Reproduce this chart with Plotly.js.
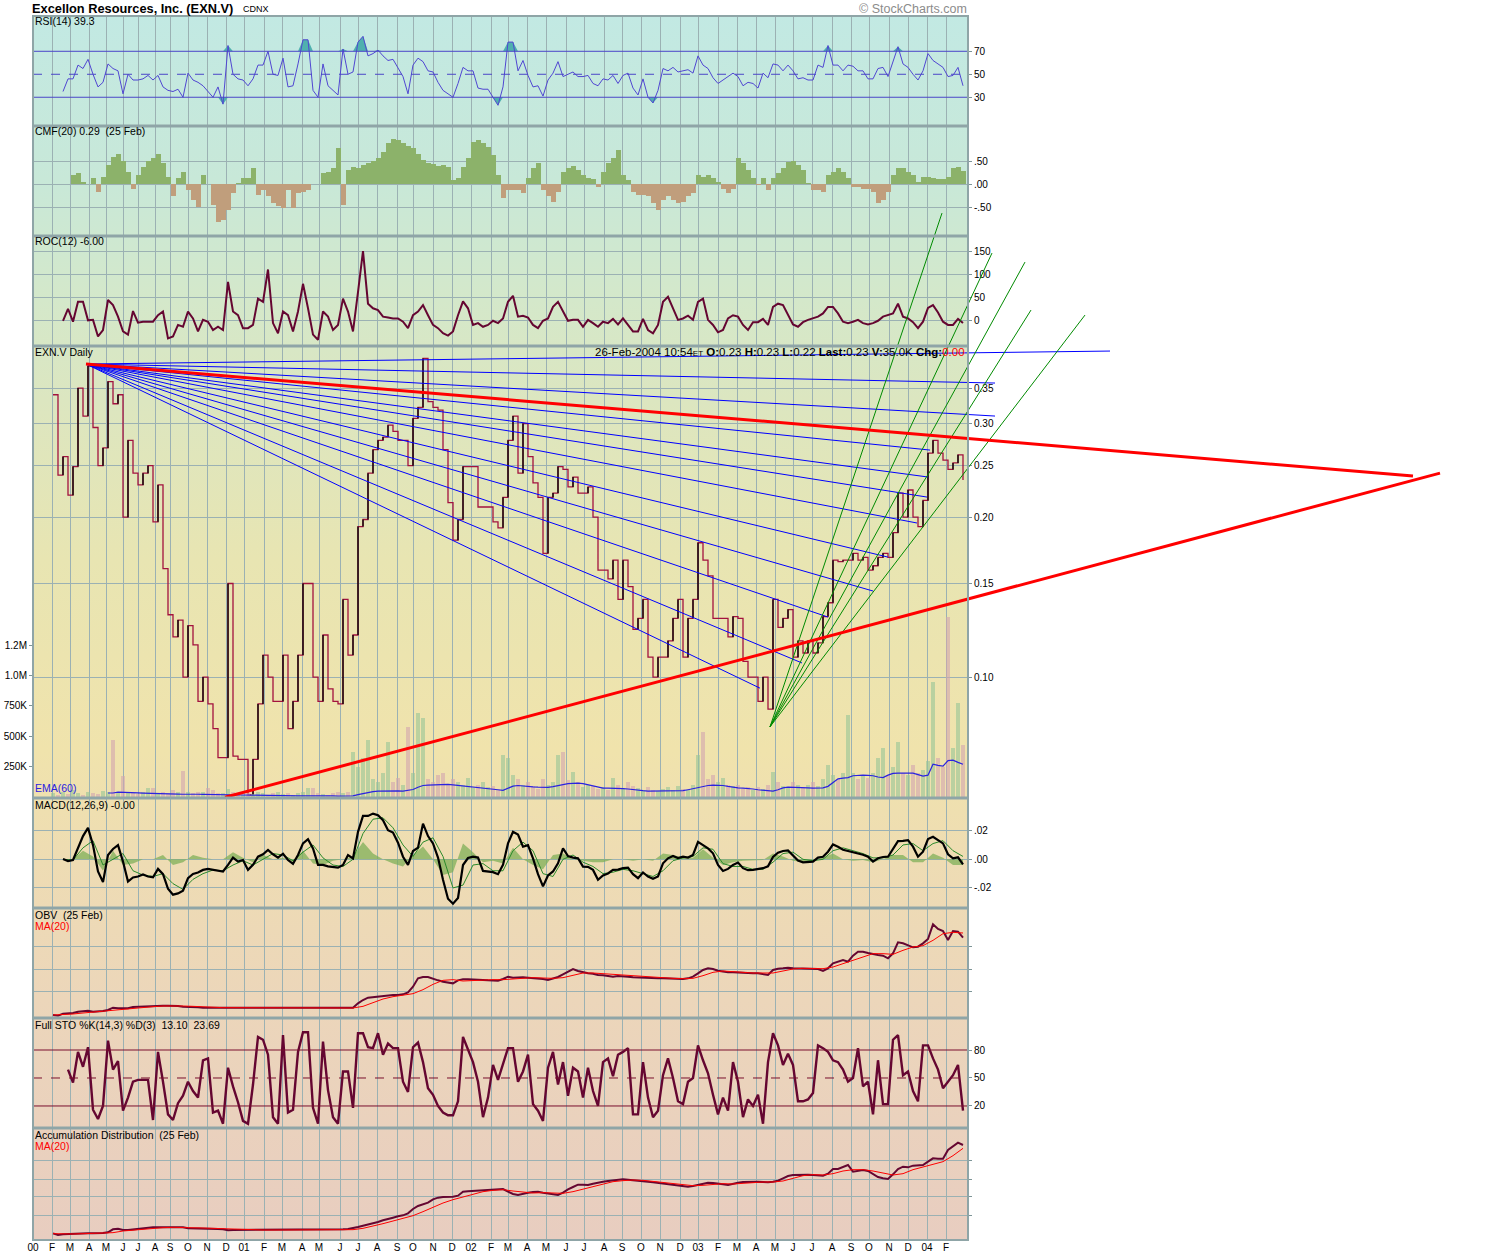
<!DOCTYPE html>
<html><head><meta charset="utf-8">
<script src="https://cdn.plot.ly/plotly-3.0.1.min.js"></script>
<style>body{margin:0;background:#fff}#chart{width:1500px;height:1260px}</style>
</head><body><div id="chart"></div><script>
// ---------- x axis: month grid (positions in weekly-slot units) ----------
const monthLabels = ['00','F','M','A','M','J','J','A','S','O','N','D',
 '01','F','M','A','M','J','J','A','S','O','N','D',
 '02','F','M','A','M','J','J','A','S','O','N','D',
 '03','F','M','A','M','J','J','A','S','O','N','D','04','F'];
const monthTickPos = [0,3.8,7.4,11.2,14.6,18,21,24.4,27.4,31,34.8,38.6,
 42.2,46.2,49.8,53.8,57.2,61.4,65,68.8,72.8,76,80,83.8,
 87.6,91.6,95,98.8,102.6,106.6,110.2,114.2,117.8,121.6,125.4,129.4,
 133,137,140.8,144.6,148.4,152,155.8,159.8,163.6,167.2,171.2,175,
 178.8,182.6];

// ---------- series (one value per weekly slot) ----------
const rsiStart = 6;
const rsi = [35,46,46,58,55,63,50,39,43,59,
 55,53,33,50,45,45,46,49,45,49,
 39,36,35,37,30,51,45,43,40,35,
 30,39,24,75,50,46,45,40,46,58,
 58,70,50,49,64,39,40,59,80,80,
 36,30,59,40,36,32,72,50,52,78,
 83,66,68,71,66,62,63,56,48,33,
 58,64,61,53,52,43,36,33,30,42,
 56,53,53,38,37,37,30,23,39,78,
 78,53,62,49,39,40,31,45,51,61,
 48,50,52,48,48,49,42,40,46,45,
 49,42,49,51,38,32,46,30,25,36,
 55,53,56,52,53,54,51,66,58,55,
 47,42,45,48,51,48,40,43,42,38,
 51,47,59,58,53,58,53,46,47,45,
 45,58,56,75,58,58,53,58,57,53,
 53,46,46,55,56,48,61,74,59,56,
 50,45,53,68,62,59,56,48,49,56,40];

const cmfStart = 8;
const cmf = [0.2,0.24,0.06,0.0,0.13,-0.16,0.16,0.41,0.59,0.66,
 0.49,0.27,-0.09,0.2,0.38,0.49,0.56,0.64,0.45,0.16,
 -0.26,0.13,0.27,-0.12,-0.34,-0.48,0.2,0,-0.44,-0.8,
 -0.76,-0.55,-0.19,0.02,0.13,0.13,0.34,-0.23,-0.12,-0.26,
 -0.41,-0.46,-0.51,-0.12,-0.51,-0.19,-0.16,-0.12,0,0,
 0.24,0.27,0.34,0.77,-0.44,0.31,0.38,0.34,0.41,0.45,
 0.49,0.56,0.7,0.88,0.97,0.95,0.88,0.83,0.77,0.66,
 0.52,0.45,0.43,0.4,0.41,0.38,0.09,0.13,0.38,0.56,
 0.91,0.95,0.88,0.81,0.63,0.2,-0.3,-0.12,-0.12,-0.12,
 -0.19,0.13,0.34,0.45,-0.12,-0.26,-0.37,-0.16,0.27,0.34,
 0.4,0.31,0.2,0.13,0.11,-0.05,0.27,0.45,0.56,0.74,
 0.2,0.09,-0.16,-0.23,-0.23,-0.26,-0.41,-0.55,-0.34,-0.26,
 -0.34,-0.41,-0.37,-0.26,-0.19,0.2,0.16,0.2,0.13,0.04,
 -0.09,-0.19,-0.09,0.56,0.45,0.31,0.13,-0.01,0.13,-0.12,
 0.13,0.24,0.34,0.47,0.49,0.41,0.31,0.02,-0.12,-0.12,
 -0.16,0.2,0.27,0.34,0.27,0.13,-0.05,-0.05,-0.09,-0.09,
 -0.16,-0.41,-0.34,-0.16,0.2,0.34,0.34,0.27,0.2,0.06,
 0.16,0.16,0.13,0.11,0.11,0.16,0.34,0.38,0.29];

const rocStart = 6;
const roc = [-1,25,-3,40,40,0,1,-35,-21,44,
 33,8,-24,-31,20,-5,-3,-3,-3,11,
 19,-39,-35,-10,-14,19,4,-24,1,-3,
 -21,-14,-21,83,19,11,-17,-17,-10,47,
 40,110,-6,-28,19,11,-24,19,79,26,
 -31,-42,19,8,-21,-10,47,19,-24,61,
 150,36,26,22,8,6,4,4,-3,-17,
 11,19,33,11,-10,-17,-28,-33,-24,11,
 41,26,-10,-6,-14,-10,-1,-6,4,40,
 53,8,10,6,-10,-17,-1,4,29,40,
 19,-1,1,1,-14,1,-6,-14,-3,-6,
 3,-9,4,-10,-24,-24,3,-21,-28,-10,
 40,51,26,1,4,10,1,40,47,1,
 -10,-26,-21,4,11,8,-10,-21,-4,-4,
 3,-10,29,36,33,11,-9,-14,-4,1,
 4,8,15,29,29,15,-3,-6,-3,1,
 -6,-9,-6,-1,8,11,15,36,8,4,
 -4,-17,-3,27,33,17,-3,-10,-10,3,-6];

const priceStart = 4;
const close = [0.34,0.24,0.26,0.22,0.249,0.35,0.31,0.385,0.295,0.25,
 0.27,0.36,0.327,0.34,0.2,0.279,0.242,0.23,0.242,0.25,
 0.196,0.23,0.16,0.131,0.119,0.128,0.10,0.125,0.115,0.09,
 0.10,0.089,0.08,0.0705,0.0705,0.15,0.071,0.07,0.07,0.06,
 0.07,0.089,0.11,0.10,0.09,0.09,0.11,0.08,0.09,0.11,
 0.15,0.15,0.10,0.09,0.12,0.095,0.09,0.089,0.14,0.11,
 0.12,0.192,0.198,0.242,0.268,0.279,0.283,0.298,0.29,0.279,
 0.279,0.25,0.307,0.322,0.398,0.33,0.322,0.318,0.268,0.213,
 0.181,0.198,0.249,0.249,0.249,0.209,0.209,0.209,0.196,0.191,
 0.218,0.279,0.31,0.242,0.30,0.26,0.232,0.218,0.171,0.218,
 0.222,0.249,0.246,0.228,0.238,0.222,0.222,0.228,0.20,0.159,
 0.159,0.153,0.166,0.14,0.166,0.148,0.123,0.129,0.14,0.109,
 0.10,0.109,0.109,0.117,0.129,0.14,0.109,0.129,0.14,0.179,
 0.166,0.155,0.129,0.129,0.129,0.119,0.13,0.129,0.107,0.10,
 0.10,0.09,0.10,0.087,0.14,0.124,0.129,0.134,0.109,0.117,
 0.111,0.117,0.111,0.116,0.13,0.138,0.166,0.165,0.166,0.166,
 0.171,0.166,0.168,0.159,0.162,0.168,0.171,0.168,0.187,0.222,
 0.20,0.225,0.20,0.192,0.215,0.264,0.279,0.264,0.256,0.246,
 0.253,0.262,0.235];

const volumeK = [30,20,45,25,60,35,20,45,30,25,
 50,40,470,35,172,40,30,25,45,75,
 75,30,40,35,60,45,213,40,30,45,
 40,74,60,30,35,70,40,25,20,30,
 25,40,30,20,35,45,25,30,20,30,
 40,74,74,30,25,20,30,40,30,45,
 374,250,320,470,150,120,200,450,120,156,
 100,580,200,690,650,150,120,180,200,100,
 150,120,100,156,74,100,120,80,90,60,
 347,320,180,150,100,120,90,70,150,100,
 120,347,374,140,210,120,80,100,90,70,
 80,60,156,100,74,120,90,74,60,80,
 60,50,70,80,60,90,70,60,100,347,
 538,150,180,120,156,100,90,101,70,80,
 60,80,70,100,210,120,90,74,120,100,
 80,100,120,90,150,260,180,150,200,675,
 200,150,180,160,200,320,400,180,250,456,
 200,180,260,200,220,300,948,320,250,1480,
 400,770,430];

const emaStart = 15;
const volEma60K = [33,33,40,40,38,36,34,32,30,28,
 27,26,25,24,24,23,25,24,23,22,
 21,20,19,18,18,17,16,15,14,13,
 12,12,11,11,10,10,10,9,9,9,
 10,10,10,9,9,9,8,8,8,10,
 20,30,40,45,48,50,52,50,50,49,
 55,62,80,95,98,100,104,106,104,100,
 96,92,90,86,82,78,74,68,60,55,
 70,90,95,90,86,84,82,80,80,85,
 95,105,110,112,115,110,100,90,80,74,
 74,74,72,70,66,60,55,52,49,49,
 48,48,48,49,49,52,60,70,80,88,
 95,98,98,95,88,80,76,74,72,66,
 60,55,50,49,60,75,82,82,82,80,
 76,74,74,76,88,120,150,156,160,175,
 180,180,178,175,165,160,180,195,197,197,
 197,197,185,172,180,270,260,254,300,303,
 285,270];

const macdStart = 6;
const macd = [0.0002,-0.0012,-0.0005,0.0076,0.0162,0.0219,0.0099,-0.0085,-0.0159,0.003,
 0.0072,0.0099,-0.0016,-0.0155,-0.0127,-0.012,-0.0106,-0.012,-0.0125,-0.0067,
 -0.0104,-0.0206,-0.0247,-0.0238,-0.0219,-0.0132,-0.0102,-0.0092,-0.0074,-0.0067,
 -0.0072,-0.0081,-0.0085,-0.0039,0.0012,-0.0016,-0.0005,-0.0074,-0.0039,0.0018,
 0.0035,0.0065,0.0035,0.0012,0.0039,-0.0005,-0.0032,0.003,0.0111,0.0141,
 0.0076,-0.0039,-0.0039,-0.0049,-0.0051,-0.0058,-0.0039,0.003,0.0007,0.0192,
 0.0303,0.0303,0.0319,0.0307,0.0273,0.0203,0.0187,0.0116,0.0018,-0.0039,
 0.0058,0.0081,0.0249,0.0162,0.0111,0.0012,-0.0143,-0.0275,-0.031,-0.027,
 -0.004,0.0009,0.0018,0.0012,-0.0081,-0.0085,-0.009,-0.0104,-0.0039,0.0111,
 0.0192,0.0173,0.0088,0.0099,0.0007,-0.0104,-0.0189,-0.0113,-0.0085,-0.0028,
 0.0076,0.0023,0.0012,0.0007,-0.0051,-0.0053,-0.0074,-0.0143,-0.0113,-0.0099,
 -0.0074,-0.0072,-0.0062,-0.0058,-0.0104,-0.0132,-0.0092,-0.012,-0.0136,-0.012,
 -0.0028,0.0007,0.0023,0.0009,0.0018,0.0012,0.003,0.0122,0.0099,0.0076,
 0.0042,-0.0039,-0.0081,-0.0067,-0.0039,-0.0023,-0.0062,-0.0076,-0.0074,-0.0069,
 -0.0062,-0.0049,0.0016,0.0046,0.0058,0.0062,0.003,-0.0009,-0.0021,-0.0021,
 -0.0016,0.0012,0.0018,0.0053,0.0104,0.0088,0.0067,0.0058,0.0049,0.0042,
 0.0032,0.0018,-0.0016,0.0007,0.0016,0.0018,0.0069,0.0127,0.0129,0.0134,
 0.0088,0.0018,0.0053,0.0141,0.0157,0.0136,0.0111,0.0035,0.0007,0.0014,-0.0035];
// signal and histogram: one value every second slot from slot 6
const macdSignal = [0.0,-0.0005,0.008,0.013,-0.004,0.0,0.004,-0.008,-0.011,-0.012,
 -0.010,-0.017,-0.021,-0.014,-0.010,-0.0075,-0.008,-0.004,-0.001,-0.004,
 0.0,0.004,0.003,-0.001,0.005,0.010,0.001,-0.004,-0.005,0.0,
 0.018,0.028,0.029,0.022,0.010,0.002,0.012,0.015,0.002,-0.020,
 -0.018,-0.004,-0.003,-0.008,-0.008,0.006,0.012,0.006,-0.010,-0.012,
 0.0,0.003,-0.002,-0.005,-0.010,-0.009,-0.007,-0.008,-0.010,-0.012,
 -0.008,-0.001,0.001,0.002,0.008,0.007,-0.003,-0.005,-0.005,-0.007,
 -0.007,-0.002,0.004,0.005,0.0,-0.001,0.0,0.006,0.008,0.006,
 0.004,0.001,0.001,0.003,0.010,0.011,0.006,0.011,0.013,0.006,
 0.002];
const macdHist = [0,0,0.006,0.002,-0.008,0.006,-0.004,-0.003,0,0,
 0.003,-0.004,-0.002,0.003,0.001,0,0,0.005,0.001,-0.002,
 0.003,0,0.001,-0.002,0.006,-0.003,-0.004,-0.001,0,0.002,
 0.012,0.004,0,-0.003,-0.005,0.003,0.009,0,-0.011,-0.009,
 0.011,0.005,-0.002,-0.001,-0.003,0.008,0,-0.004,-0.007,0.003,
 0.004,0,-0.001,-0.002,-0.002,0,0,-0.001,0,-0.001,
 0.004,0.003,0.001,0.001,0.007,0.001,-0.004,-0.002,-0.001,-0.001,
 -0.0005,0.004,0.002,-0.001,-0.002,-0.001,0.001,0.004,0,-0.001,
 -0.0005,-0.002,0,0.003,0.003,-0.002,-0.002,0.004,0.001,-0.004,
 -0.004];

const obvStart = 4; // arbitrary units (millions)
const obv = [1.0,0.9,1.2,1.25,1.3,1.5,1.6,1.65,1.5,1.5,
 1.6,1.75,2.1,2.0,2.0,2.0,2.2,2.25,2.3,2.35,
 2.4,2.4,2.4,2.4,2.4,2.35,2.25,2.25,2.2,2.15,
 2.1,2.1,2.1,2.1,2.05,2.1,2.1,2.1,2.1,2.1,
 2.1,2.1,2.1,2.1,2.1,2.1,2.1,2.1,2.1,2.1,
 2.1,2.1,2.0,2.0,2.0,2.0,2.0,2.0,2.0,2.05,
 2.1,2.75,3.25,3.6,3.7,3.75,3.8,4.0,4.0,4.0,
 4.1,4.4,5.25,6.5,6.7,6.7,6.4,6.2,6.0,5.9,
 5.75,6.2,6.35,6.35,6.35,6.35,6.25,6.2,6.2,6.15,
 6.4,6.75,6.6,6.65,6.65,6.6,6.55,6.5,6.4,6.25,
 6.5,6.7,7.1,7.5,7.9,7.6,7.4,7.25,7.2,7.0,
 6.95,6.85,6.75,6.85,6.85,6.75,6.65,6.6,6.55,6.5,
 6.5,6.5,6.5,6.45,6.45,6.4,6.4,6.5,6.75,7.25,
 7.75,8.0,7.9,7.65,7.5,7.4,7.4,7.35,7.25,7.25,
 7.25,7.25,7.1,7.0,7.75,7.95,8.0,8.1,8.0,8.0,
 8.0,8.0,8.0,7.9,7.6,8.0,8.75,9.0,9.25,9.0,
 9.9,10.5,10.5,10.3,10.1,10.0,9.9,9.5,10.25,11.9,
 11.75,11.4,11.15,11.25,11.75,12.4,14.6,13.9,13.6,12.25,
 13.6,13.5,12.6];
const obvMa20 = [1.0,1.05,1.15,1.3,1.45,1.5,1.65,1.85,2.0,2.1,
 2.25,2.35,2.4,2.35,2.3,2.2,2.15,2.1,2.1,2.1,
 2.1,2.1,2.1,2.1,2.1,2.1,2.1,2.1,2.1,2.1,
 2.05,2.3,2.9,3.4,3.75,3.95,4.2,4.8,5.6,6.2,
 6.3,6.1,6.2,6.3,6.3,6.3,6.4,6.55,6.6,6.55,
 6.5,6.6,7.0,7.3,7.3,7.2,7.0,6.9,6.8,6.7,
 6.6,6.55,6.5,6.45,6.5,6.9,7.4,7.6,7.55,7.4,
 7.3,7.25,7.3,7.6,7.9,8.0,8.0,7.95,8.2,8.7,
 9.2,9.8,10.2,10.2,10.1,10.7,11.2,11.4,12.2,13.2,
 13.4,13.3];

const stoStart = 7;
const stoK = [59,45,78,62,83,16,6,20,90,59,
 68,15,29,46,48,48,48,5,78,46,
 11,5,23,31,46,36,29,69,71,13,
 15,1,61,41,24,4,1,43,94,91,
 75,8,1,96,13,16,78,99,99,18,
 1,89,37,8,1,57,57,18,98,98,
 83,82,98,75,87,82,82,46,35,83,
 88,67,39,32,20,13,10,10,25,94,
 80,67,46,8,29,64,48,64,82,82,
 46,57,75,22,15,4,61,78,43,67,
 31,61,57,29,61,36,20,67,71,52,
 75,78,82,11,11,67,29,8,15,53,
 71,50,25,22,46,50,85,69,55,32,
 11,29,15,67,46,8,27,20,32,1,
 67,98,85,64,76,64,25,25,27,34,
 85,82,78,69,67,59,46,50,82,41,
 46,11,69,22,22,91,96,53,57,36,
 25,85,85,71,59,39,46,53,64,15];

const adStart = 4; // arbitrary units
const accDist = [1.25,1.0,1.1,1.15,1.2,1.2,1.25,1.25,1.25,1.25,
 1.3,1.4,1.85,1.95,1.75,1.75,1.85,1.95,2.0,2.1,
 2.15,2.15,2.15,2.15,2.2,2.25,2.15,2.0,2.0,2.0,
 2.0,2.0,2.0,1.9,1.85,1.7,1.75,1.75,1.75,1.75,
 1.75,1.75,1.75,1.75,1.75,1.75,1.75,1.75,1.75,1.75,
 1.75,1.75,1.75,1.75,1.75,1.75,1.75,1.75,1.85,1.9,
 2.0,2.2,2.4,2.55,2.75,2.95,3.2,3.45,3.6,3.8,
 3.95,4.25,4.9,5.35,5.65,5.85,6.35,6.6,6.7,6.7,
 6.75,6.9,7.5,7.55,7.6,7.65,7.75,7.75,7.8,7.8,
 7.9,7.5,7.15,7.0,7.2,7.35,7.45,7.5,7.35,7.2,
 7.1,7.0,7.35,7.85,8.2,8.55,8.55,8.5,8.7,8.9,
 9.0,9.1,9.2,9.25,9.35,9.3,9.25,9.15,9.05,9.0,
 8.9,8.8,8.75,8.6,8.5,8.4,8.3,8.25,8.35,8.5,
 8.7,8.85,8.8,8.75,8.6,8.5,8.7,8.85,8.95,9.0,
 9.0,9.0,8.95,8.9,9.0,9.15,9.5,9.85,10.0,10.05,
 10.1,10.05,10.0,9.95,9.9,10.2,10.9,10.9,11.25,11.5,
 10.5,10.6,10.75,10.6,10.2,9.7,9.5,9.4,10.1,10.9,
 11.25,11.15,11.4,11.45,11.5,12.0,12.5,12.45,12.45,13.75,
 14.3,14.85,14.5];
const adMa20 = [1.2,1.15,1.15,1.2,1.25,1.25,1.35,1.6,1.75,1.85,
 2.0,2.1,2.15,2.15,2.1,2.05,2.0,1.95,1.85,1.75,
 1.75,1.75,1.75,1.75,1.75,1.75,1.75,1.75,1.75,1.75,
 1.8,2.0,2.3,2.7,3.1,3.5,3.9,4.5,5.2,5.8,
 6.3,6.7,7.1,7.5,7.7,7.8,7.6,7.4,7.3,7.35,
 7.3,7.25,7.5,7.9,8.3,8.7,9.0,9.15,9.25,9.2,
 9.05,8.9,8.7,8.5,8.4,8.45,8.6,8.7,8.65,8.75,
 8.9,8.95,8.95,9.1,9.5,9.9,10.05,10.0,10.2,10.6,
 10.8,10.8,10.6,10.3,10.0,10.2,10.8,11.2,11.6,12.0,
 12.9,14.0];

// ---------- drawn trendlines: [slot, price] endpoints ----------
const fanOrigin = [10.6, 0.3884];
const blueFanEnds = [[215.4,0.4109],[192.4,0.3577],[192.4,0.3100],[179.4,0.2675],[179.0,0.2380],
 [178.8,0.2182],[176.8,0.1950],[171.0,0.1682],[168.0,0.1452],[159.0,0.1297],[153.8,0.1063],[145.4,0.0953]];
const redTrendLines = [[[10.6,0.3884],[276.0,0.2390]], [[38.4,0.0594],[281.4,0.2421]]];
const greenOrigin = [147.4, 0.0806];
const greenFanEnds = [[181.8,0.7473],[191.8,0.6284],[198.4,0.6043],[199.6,0.4908],[210.4,0.4803]];

// ---------- geometry ----------
const W = 1500, H = 1260;
const plotL = 33, plotR = 968;
const xRange = [0, 187];
const PX = p => p / W, PY = p => 1 - p / H;
const dom = (top, bot) => [PY(bot), PY(top)];
const priceRange = [0.0592, 0.42];
const priceTop = 346, priceBot = 798;

const xs = (start, n, step) => Array.from({length: n}, (_, k) => start + k * (step || 1));

const MAROON = '#650631';
const traces = [];

// RSI
const rsiX = xs(rsiStart, rsi.length);
traces.push({x: rsiX, y: rsiX.map(() => 70), yaxis: 'y', mode: 'lines', line: {width: 0}});
traces.push({x: rsiX, y: rsi.map(v => Math.max(v, 70)), yaxis: 'y', mode: 'lines', line: {width: 0}, fill: 'tonexty', fillcolor: '#4fb0ae'});
traces.push({x: rsiX, y: rsiX.map(() => 30), yaxis: 'y', mode: 'lines', line: {width: 0}});
traces.push({x: rsiX, y: rsi.map(v => Math.min(v, 30)), yaxis: 'y', mode: 'lines', line: {width: 0}, fill: 'tonexty', fillcolor: '#4fb0ae'});
traces.push({x: rsiX, y: rsi, yaxis: 'y', mode: 'lines', line: {color: '#5046d2', width: 1}});

// CMF
const cmfX = xs(cmfStart, cmf.length);
traces.push({type: 'bar', x: cmfX, y: cmf.map(v => v > 0 ? v : 0), yaxis: 'y2', width: 1, marker: {color: '#8cb26a', line: {width: 0}}});
traces.push({type: 'bar', x: cmfX, y: cmf.map(v => v < 0 ? v : 0), yaxis: 'y2', width: 1, marker: {color: '#c09e7c', line: {width: 0}}});

// ROC
traces.push({x: xs(rocStart, roc.length), y: roc, yaxis: 'y3', mode: 'lines', line: {color: MAROON, width: 2}});

// Volume (left axis of price panel)
const volX = xs(priceStart, volumeK.length);
const upVol = volumeK.map((v, k) => (k === 0 || close[k] >= close[k - 1]) ? v * 1000 : 0);
const dnVol = volumeK.map((v, k) => (k > 0 && close[k] < close[k - 1]) ? v * 1000 : 0);
traces.push({type: 'bar', x: volX, y: upVol, yaxis: 'y10', width: 0.8, marker: {color: 'rgba(150,196,150,0.6)', line: {width: 0}}});
traces.push({type: 'bar', x: volX, y: dnVol, yaxis: 'y10', width: 0.8, marker: {color: 'rgba(210,165,175,0.6)', line: {width: 0}}});
traces.push({x: xs(emaStart, volEma60K.length), y: volEma60K.map(v => v * 1000), yaxis: 'y10', mode: 'lines', line: {color: '#2a22e0', width: 1.2}});

// Price
const pX = xs(priceStart, close.length);
traces.push({x: pX, y: close, yaxis: 'y4', mode: 'lines', line: {color: '#a3123e', width: 1.3, shape: 'hv'}});
const upX = [], upY = [];
close.forEach((v, k) => { if (k > 0 && v > close[k - 1]) { upX.push(pX[k], pX[k], null); upY.push(close[k - 1], v, null); } });
traces.push({x: upX, y: upY, yaxis: 'y4', mode: 'lines', line: {color: '#000', width: 1.3}});

// MACD
const histX = xs(macdStart, macdHist.length, 2);
traces.push({x: histX, y: macdHist, yaxis: 'y5', mode: 'lines', line: {width: 0}, fill: 'tozeroy', fillcolor: 'rgba(120,172,82,0.7)'});
traces.push({x: xs(macdStart, macdSignal.length, 2), y: macdSignal, yaxis: 'y5', mode: 'lines', line: {color: '#2b8a2b', width: 1}});
traces.push({x: xs(macdStart, macd.length), y: macd, yaxis: 'y5', mode: 'lines', line: {color: '#000', width: 2.2}});

// OBV
traces.push({x: xs(obvStart, obv.length), y: obv, yaxis: 'y6', mode: 'lines', line: {color: MAROON, width: 2}});
traces.push({x: xs(obvStart, obvMa20.length, 2), y: obvMa20, yaxis: 'y6', mode: 'lines', line: {color: '#ff0000', width: 1}});

// Full STO
traces.push({x: xs(stoStart, stoK.length), y: stoK, yaxis: 'y7', mode: 'lines', line: {color: MAROON, width: 2.4}});

// Accumulation / Distribution
traces.push({x: xs(adStart, accDist.length), y: accDist, yaxis: 'y8', mode: 'lines', line: {color: MAROON, width: 2}});
traces.push({x: xs(adStart, adMa20.length, 2), y: adMa20, yaxis: 'y8', mode: 'lines', line: {color: '#ff0000', width: 1}});

// Trendlines on a full-figure overlay whose scales extend the price panel's scales
const lpLo = Math.log10(priceRange[0]), lpHi = Math.log10(priceRange[1]);
const perPxY = (lpHi - lpLo) / (priceBot - priceTop);
const ovY = [lpLo - (H - priceBot) * perPxY, lpHi + priceTop * perPxY];
const perPxX = (xRange[1] - xRange[0]) / (plotR - plotL);
const ovX = [xRange[0] - plotL * perPxX, xRange[1] + (W - plotR) * perPxX];
function fan(origin, ends) {
  const x = [], y = [];
  ends.forEach(e => { x.push(origin[0], e[0], null); y.push(origin[1], e[1], null); });
  return {x, y};
}
const bf = fan(fanOrigin, blueFanEnds);
traces.push({x: bf.x, y: bf.y, xaxis: 'x2', yaxis: 'y9', mode: 'lines', line: {color: '#0000ff', width: 1}});
const gf = fan(greenOrigin, greenFanEnds);
traces.push({x: gf.x, y: gf.y, xaxis: 'x2', yaxis: 'y9', mode: 'lines', line: {color: '#008a00', width: 1}});
const rx = [], ry = [];
redTrendLines.forEach(l => { rx.push(l[0][0], l[1][0], null); ry.push(l[0][1], l[1][1], null); });
traces.push({x: rx, y: ry, xaxis: 'x2', yaxis: 'y9', mode: 'lines', line: {color: '#ff0000', width: 3}});

// ---------- layout ----------
const GRID = '#9bb1b3';
const yBase = {anchor: 'x', side: 'right', zeroline: false, showline: false, ticks: 'outside', ticklen: 3,
  tickcolor: '#7d9597', gridcolor: GRID, gridwidth: 1, fixedrange: true, tickfont: {size: 10}};
const layout = {
  width: W, height: H, margin: {l: 0, r: 0, t: 0, b: 0},
  paper_bgcolor: '#ffffff', plot_bgcolor: 'rgba(0,0,0,0)',
  font: {family: 'Liberation Sans, Arial, sans-serif', size: 10, color: '#000'},
  showlegend: false, barmode: 'overlay', bargap: 0,
  xaxis: {domain: [PX(plotL), PX(plotR)], range: xRange, anchor: 'y8', tickmode: 'array',
    tickvals: monthTickPos, ticktext: monthLabels, showgrid: true, gridcolor: GRID, gridwidth: 1,
    ticks: '', zeroline: false, showline: false, tickfont: {size: 10}, fixedrange: true},
  xaxis2: {domain: [0, 1], range: ovX, anchor: 'y9', visible: false, fixedrange: true},
  yaxis: Object.assign({}, yBase, {domain: dom(16, 126), range: [5.0, 100.7], tickvals: [30, 50, 70], showgrid: false}),
  yaxis2: Object.assign({}, yBase, {domain: dom(126, 236), range: [-1.109, 1.251], tickvals: [-0.5, 0, 0.5], ticktext: ['-.50', '.00', '.50'], showgrid: true}),
  yaxis3: Object.assign({}, yBase, {domain: dom(236, 346), range: [-55.6, 182.5], tickvals: [0, 50, 100, 150], showgrid: true}),
  yaxis4: Object.assign({}, yBase, {domain: dom(priceTop, priceBot), type: 'log', range: [lpLo, lpHi],
    tickvals: [0.10, 0.15, 0.20, 0.25, 0.30, 0.35], ticktext: ['0.10', '0.15', '0.20', '0.25', '0.30', '0.35'], showgrid: true}),
  yaxis10: Object.assign({}, yBase, {overlaying: 'y4', side: 'left', range: [-8000, 3713000],
    tickvals: [250000, 500000, 750000, 1000000, 1250000], ticktext: ['250K', '500K', '750K', '1.0M', '1.2M'], showgrid: false}),
  yaxis5: Object.assign({}, yBase, {domain: dom(798, 908), range: [-0.034, 0.0428], tickvals: [-0.02, 0, 0.02], ticktext: ['-.02', '.00', '.02'], showgrid: true}),
  yaxis6: Object.assign({}, yBase, {domain: dom(908, 1018), range: [0.55, 17.05], tickvals: [4.55, 7.9, 11.25], showticklabels: false, showgrid: true}),
  yaxis7: Object.assign({}, yBase, {domain: dom(1018, 1128), range: [-3.6, 114.3], tickvals: [20, 50, 80], showgrid: false}),
  yaxis8: Object.assign({}, yBase, {domain: dom(1128, 1240), range: [0.25, 17.05], tickvals: [3.9, 6.75, 9.4, 12.15], showticklabels: false, showgrid: true}),
  yaxis9: {domain: [0, 1], range: ovY, type: 'log', anchor: 'x2', visible: false, fixedrange: true},
  shapes: [], annotations: [], images: []
};

// background gradient of the whole chart area
const svg = "<svg xmlns='http://www.w3.org/2000/svg' width='100' height='100' preserveAspectRatio='none'>" +
 "<defs><linearGradient id='g' x1='0' y1='0' x2='0' y2='1'>" +
 "<stop offset='0' stop-color='#c2e9e3'/><stop offset='0.134' stop-color='#c8e8d8'/>" +
 "<stop offset='0.232' stop-color='#d4e8ca'/><stop offset='0.314' stop-color='#dce6c0'/>" +
 "<stop offset='0.444' stop-color='#e8e5b2'/><stop offset='0.6' stop-color='#f0e3ac'/>" +
 "<stop offset='0.69' stop-color='#eedcb3'/><stop offset='0.804' stop-color='#ecd6ba'/>" +
 "<stop offset='1' stop-color='#e8cdc0'/></linearGradient></defs>" +
 "<rect width='100' height='100' fill='url(#g)'/></svg>";
layout.images.push({source: 'data:image/svg+xml;charset=utf-8,' + encodeURIComponent(svg),
  xref: 'paper', yref: 'paper', x: PX(plotL), y: PY(16), sizex: (plotR - plotL) / W, sizey: (1240 - 16) / H,
  xanchor: 'left', yanchor: 'top', sizing: 'stretch', layer: 'below'});

// reference lines
[[70, 'solid'], [50, 'dash'], [30, 'solid']].forEach(([v, d]) => layout.shapes.push({type: 'line', xref: 'x', yref: 'y',
  x0: xRange[0], x1: xRange[1], y0: v, y1: v, line: {color: '#4b45c8', width: 1, dash: d}}));
[[80, 'solid'], [50, 'dash'], [20, 'solid']].forEach(([v, d]) => layout.shapes.push({type: 'line', xref: 'x', yref: 'y7',
  x0: xRange[0], x1: xRange[1], y0: v, y1: v, line: {color: '#7a0f2e', width: 1, dash: d}}));

// panel frames
const FRAME = '#8fa5a7';
layout.shapes.push({type: 'rect', xref: 'paper', yref: 'paper', x0: PX(plotL), x1: PX(plotR), y0: PY(1240), y1: PY(16),
  line: {color: FRAME, width: 2}});
[126, 236, 346, 798, 908, 1018, 1128].forEach(p => layout.shapes.push({type: 'line', xref: 'paper', yref: 'paper',
  x0: PX(plotL), x1: PX(plotR), y0: PY(p), y1: PY(p), line: {color: FRAME, width: 3}}));

// texts
function note(text, px, py, opts) {
  layout.annotations.push(Object.assign({text, xref: 'paper', yref: 'paper', x: PX(px), y: PY(py),
    xanchor: 'left', yanchor: 'middle', showarrow: false, borderpad: 0, font: {size: 10.5, color: '#000'}}, opts || {}));
}
note('<b>Excellon Resources, Inc. (EXN.V)</b>', 31, 9, {font: {size: 12.8, color: '#000'}});
note('CDNX', 242, 9, {font: {size: 9, color: '#000'}});
note('\u00a9 StockCharts.com', 968, 9, {xanchor: 'right', font: {size: 12.5, color: '#8c8c8c'}});
note('RSI(14) 39.3', 34, 21);
note('CMF(20) 0.29 &nbsp;(25 Feb)', 34, 131);
note('ROC(12) -6.00', 34, 241);
note('EXN.V Daily', 34, 352);
note('26-Feb-2004 10:54<span style="font-size:8px">ET</span> <b>O:</b>0.23 <b>H:</b>0.23 <b>L:</b>0.22 <b>Last:</b>0.23 <b>V:</b>35.0K <b>Chg:</b><span style="color:#ff0000">0.00</span>',
  966, 352, {xanchor: 'right', font: {size: 11.5, color: '#000'}});
note('EMA(60)', 34, 788, {font: {size: 10.5, color: '#2a22e0'}});
note('MACD(12,26,9) -0.00', 34, 805);
note('OBV &nbsp;(25 Feb)', 34, 915);
note('MA(20)', 34, 926, {font: {size: 10.5, color: '#ff0000'}});
note('Full STO %K(14,3) %D(3) &nbsp;13.10 &nbsp;23.69', 34, 1025);
note('Accumulation Distribution &nbsp;(25 Feb)', 34, 1135);
note('MA(20)', 34, 1146, {font: {size: 10.5, color: '#ff0000'}});

traces.forEach(t => { if (!t.hoverinfo) t.hoverinfo = 'skip'; if (!t.xaxis) t.xaxis = 'x'; });
Plotly.newPlot('chart', traces, layout, {staticPlot: true});
</script></body></html>
